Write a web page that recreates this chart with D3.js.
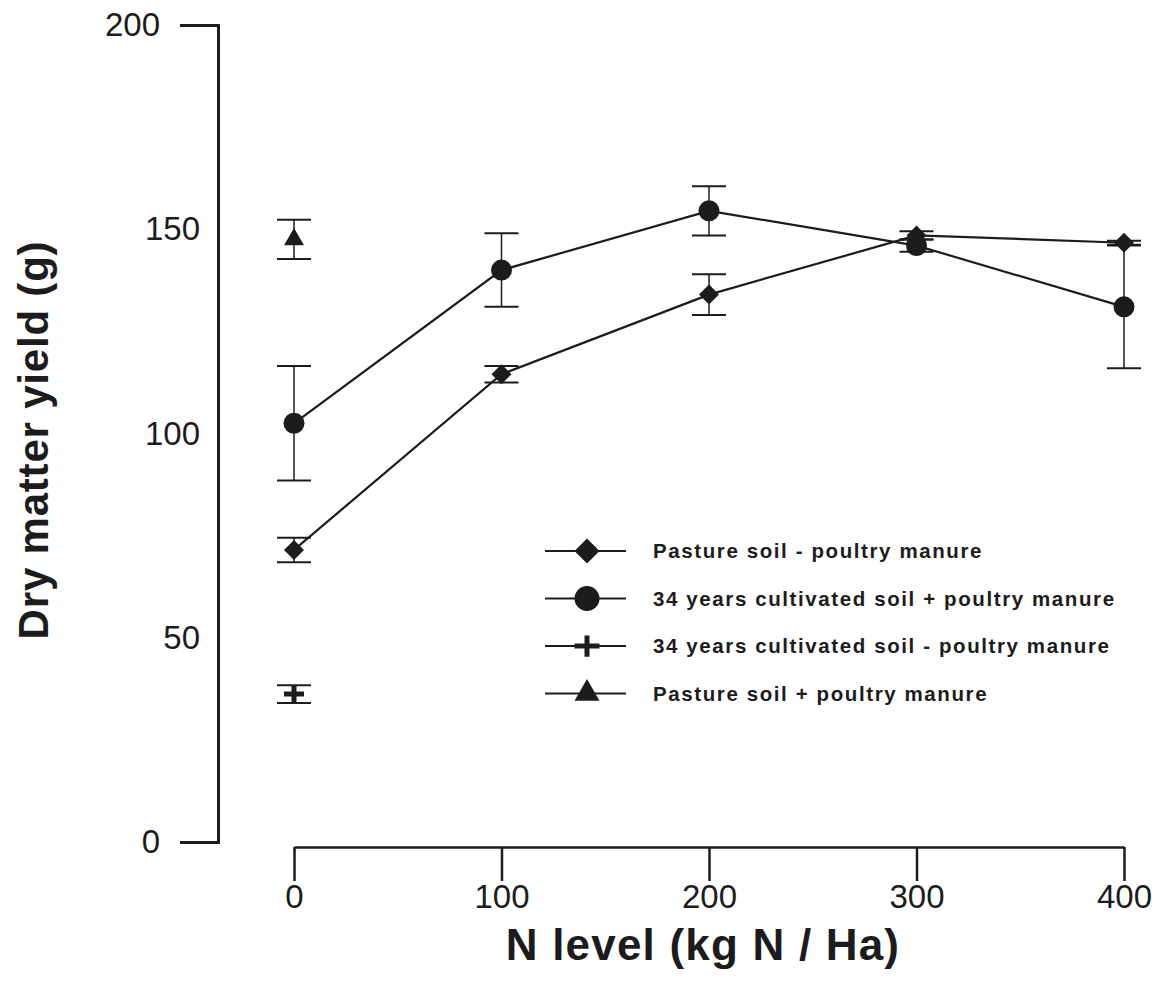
<!DOCTYPE html>
<html>
<head>
<meta charset="utf-8">
<script src="https://cdn.jsdelivr.net/npm/d3@7"></script>
<style>
  body { margin: 0; background: #fff; }
  svg { display: block; }
  text { font-family: Arial, "Liberation Sans", sans-serif; fill: #1c1c1c; }
</style>
</head>
<body>
<svg id="chart" width="1158" height="986"></svg>
<script>
// N application rates (kg N / Ha)
const nLevels = [0, 100, 200, 300, 400];
const yTickValues = [0, 50, 100, 150, 200];

// Dry matter yield (g), mean and error for each treatment
const pastureMinusMean = [71.5, 114.5, 134, 148.5, 146.7];
const pastureMinusErr = [3, 2, 5, 1, 0.5];
const cultivatedPlusMean = [102.5, 140, 154.5, 146, 131];
const cultivatedPlusErr = [14, 9, 6, 1.5, 15];
// these two treatments were only measured without mineral N
const cultivatedMinusLevels = [0];
const cultivatedMinusMean = [36.2];
const cultivatedMinusErr = [2.2];
const pasturePlusLevels = [0];
const pasturePlusMean = [147.5];
const pasturePlusErr = [4.8];

const legendLabels = [
  "Pasture soil - poultry manure",
  "34 years cultivated soil + poultry manure",
  "34 years cultivated soil - poultry manure",
  "Pasture soil + poultry manure"
];

const ink = "#1c1c1c";
const svg = d3.select("#chart");

const x = d3.scaleLinear().domain([0, 400]).range([294, 1124]);
const y = d3.scaleLinear().domain([0, 200]).range([842, 25]);

// marker shapes
const markerPath = {
  diamond: r => `M0,${-r}L${r},0L0,${r}L${-r},0Z`,
  circle: r => d3.symbol(d3.symbolCircle, Math.PI * r * r)(),
  triangle: r => d3.symbol(d3.symbolTriangle, Math.sqrt(3) / 4 * (2 * r) * (2 * r))(),
};

function drawMarker(g, kind, r) {
  if (kind === "plus") {
    g.append("path").attr("d", `M${-r},0H${r}M0,${-r * 0.85}V${r * 0.85}`)
      .attr("stroke", ink).attr("stroke-width", 5).attr("fill", "none");
  } else {
    g.append("path").attr("d", markerPath[kind](r)).attr("fill", ink);
  }
}

const series = [
  { levels: nLevels, mean: pastureMinusMean, err: pastureMinusErr, marker: "diamond" },
  { levels: nLevels, mean: cultivatedPlusMean, err: cultivatedPlusErr, marker: "circle" },
  { levels: cultivatedMinusLevels, mean: cultivatedMinusMean, err: cultivatedMinusErr, marker: "plus" },
  { levels: pasturePlusLevels, mean: pasturePlusMean, err: pasturePlusErr, marker: "triangle" }
];

// Y axis: bracket with end ticks
const yAxis = d3.axisLeft(y).tickValues(yTickValues).tickSizeInner(0).tickSizeOuter(38).tickPadding(18);
const gy = svg.append("g").attr("transform", "translate(218,0)").call(yAxis);
gy.select(".domain").attr("stroke", ink).attr("stroke-width", 3);
gy.selectAll(".tick line").remove();
gy.selectAll(".tick text")
  .attr("font-size", 33).attr("fill", ink)
  .attr("x", d => (d === 0 || d === 200) ? -58 : -18);

// X axis: offset baseline with downward ticks
const xAxis = d3.axisBottom(x).tickValues(nLevels).tickSize(34).tickSizeOuter(0).tickPadding(4);
const gx = svg.append("g").attr("transform", "translate(0,847)").call(xAxis);
gx.select(".domain").attr("stroke", ink).attr("stroke-width", 2.5);
gx.selectAll(".tick line").attr("stroke", ink).attr("stroke-width", 2.5);
gx.selectAll(".tick text").attr("font-size", 33).attr("fill", ink);

// axis titles
svg.append("text")
  .attr("x", 703).attr("y", 960)
  .attr("text-anchor", "middle")
  .attr("font-size", 44).attr("font-weight", "bold")
  .attr("letter-spacing", 1.2)
  .text("N level (kg N / Ha)");

svg.append("text")
  .attr("transform", "translate(48,440) rotate(-90)")
  .attr("text-anchor", "middle")
  .attr("font-size", 42).attr("font-weight", "bold")
  .attr("letter-spacing", 0.8)
  .text("Dry matter yield (g)");

// error bars
const eg = svg.append("g");
series.forEach(s => {
  s.levels.forEach((lv, i) => {
    const cx = x(lv), hi = y(s.mean[i] + s.err[i]), lo = y(s.mean[i] - s.err[i]);
    eg.append("line").attr("x1", cx).attr("x2", cx).attr("y1", hi).attr("y2", lo)
      .attr("stroke", ink).attr("stroke-width", 1.5);
    [hi, lo].forEach(yy => eg.append("line")
      .attr("x1", cx - 17).attr("x2", cx + 17).attr("y1", yy).attr("y2", yy)
      .attr("stroke", ink).attr("stroke-width", 2));
  });
});

// connecting lines
const line = d3.line().x(d => x(d[0])).y(d => y(d[1]));
series.filter(s => s.levels.length > 1).forEach(s => {
  svg.append("path")
    .attr("d", line(s.levels.map((lv, i) => [lv, s.mean[i]])))
    .attr("fill", "none").attr("stroke", ink).attr("stroke-width", 2.2);
});

// markers
series.forEach(s => {
  s.levels.forEach((lv, i) => {
    const g = svg.append("g").attr("transform", `translate(${x(lv)},${y(s.mean[i])})`);
    drawMarker(g, s.marker, s.marker === "circle" ? 10.5 : 10);
  });
});

// legend
const legend = svg.append("g").attr("transform", "translate(545,551)");
legendLabels.forEach((lab, i) => {
  const row = legend.append("g").attr("transform", `translate(0,${i * 47.5})`);
  row.append("line").attr("x1", 0).attr("x2", 81).attr("y1", 0).attr("y2", 0)
    .attr("stroke", ink).attr("stroke-width", 2.2);
  const mg = row.append("g").attr("transform", "translate(42,0)");
  drawMarker(mg, series[i].marker, 12.5);
  row.append("text").attr("x", 108).attr("y", 7)
    .attr("font-size", 20.5).attr("font-weight", "bold").attr("letter-spacing", 1.6)
    .text(lab);
});
</script>
</body>
</html>
